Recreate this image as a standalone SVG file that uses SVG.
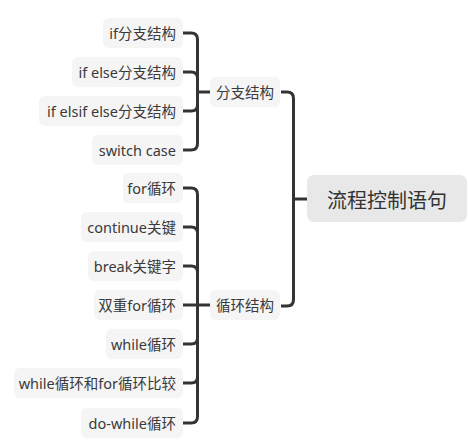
<svg xmlns="http://www.w3.org/2000/svg" width="468" height="448" viewBox="0 0 468 448">
<style>
.leaf rect{fill:#f5f5f5}
.leaf text,.mid text{font-family:"Noto Sans","Noto Sans CJK SC",sans-serif;font-size:14.5px;fill:#3a3a3a;text-anchor:end;dominant-baseline:central}
.mid rect{fill:#f5f5f5}
.root rect{fill:#e8e8e8}
.root text{font-family:"Noto Sans CJK SC","Noto Sans",sans-serif;font-size:20px;fill:#333;text-anchor:middle;dominant-baseline:central}
#connectors path{fill:none;stroke:#333;stroke-width:3;stroke-linecap:butt}
</style>
<rect width="468" height="448" fill="#fff"/>
<g id="connectors">
<path d="M183,33 H191 Q197.5,33 197.5,39.5 V143.5 Q197.5,150 191,150 H183"/>
<path d="M183,72 H191 Q197.5,72 197.5,78"/>
<path d="M183,111 H191 Q197.5,111 197.5,105"/>
<path d="M197.5,92 H211"/>
<path d="M183,188 H191 Q197.5,188 197.5,194.5 V416.5 Q197.5,423 191,423 H183"/>
<path d="M183,227 H191 Q197.5,227 197.5,233"/>
<path d="M183,266 H191 Q197.5,266 197.5,272"/>
<path d="M183,305 H211"/>
<path d="M183,344 H191 Q197.5,344 197.5,338"/>
<path d="M183,383 H191 Q197.5,383 197.5,377"/>
<path d="M281,92 H287 Q293.5,92 293.5,98.5 V299.5 Q293.5,306 287,306 H281"/>
<path d="M293.5,199 H308"/>
</g>
<g id="root" class="root"><rect x="307" y="175" width="160" height="47" rx="7"/><text x="387" y="199">流程控制语句</text></g>
<g id="branch" class="mid"><rect x="210" y="77" width="70" height="30" rx="6"/><text x="274" y="92">分支结构</text></g>
<g id="loop" class="mid"><rect x="210" y="290" width="70" height="30" rx="6"/><text x="274" y="305">循环结构</text></g>
<g id="if" class="leaf"><rect x="103" y="18" width="80" height="30" rx="6"/><text x="176" y="33">if分支结构</text></g>
<g id="ifelse" class="leaf"><rect x="72" y="57" width="111" height="30" rx="6"/><text x="176" y="72">if else分支结构</text></g>
<g id="ifelsif" class="leaf"><rect x="39" y="96" width="144" height="30" rx="6"/><text x="176" y="111">if elsif else分支结构</text></g>
<g id="switch" class="leaf"><rect x="92" y="135" width="91" height="30" rx="6"/><text x="176" y="150">switch case</text></g>
<g id="for" class="leaf"><rect x="123" y="173" width="60" height="30" rx="6"/><text x="176" y="188">for循环</text></g>
<g id="continue" class="leaf"><rect x="81" y="212" width="102" height="30" rx="6"/><text x="176" y="227">continue关键</text></g>
<g id="break" class="leaf"><rect x="88" y="251" width="95" height="30" rx="6"/><text x="176" y="266">break关键字</text></g>
<g id="doublefor" class="leaf"><rect x="94" y="290" width="89" height="30" rx="6"/><text x="176" y="305">双重for循环</text></g>
<g id="while" class="leaf"><rect x="106" y="329" width="77" height="30" rx="6"/><text x="176" y="344">while循环</text></g>
<g id="compare" class="leaf"><rect x="14" y="368" width="169" height="30" rx="6"/><text x="176" y="383">while循环和for循环比较</text></g>
<g id="dowhile" class="leaf"><rect x="81" y="408" width="102" height="30" rx="6"/><text x="176" y="423">do-while循环</text></g>
</svg>
